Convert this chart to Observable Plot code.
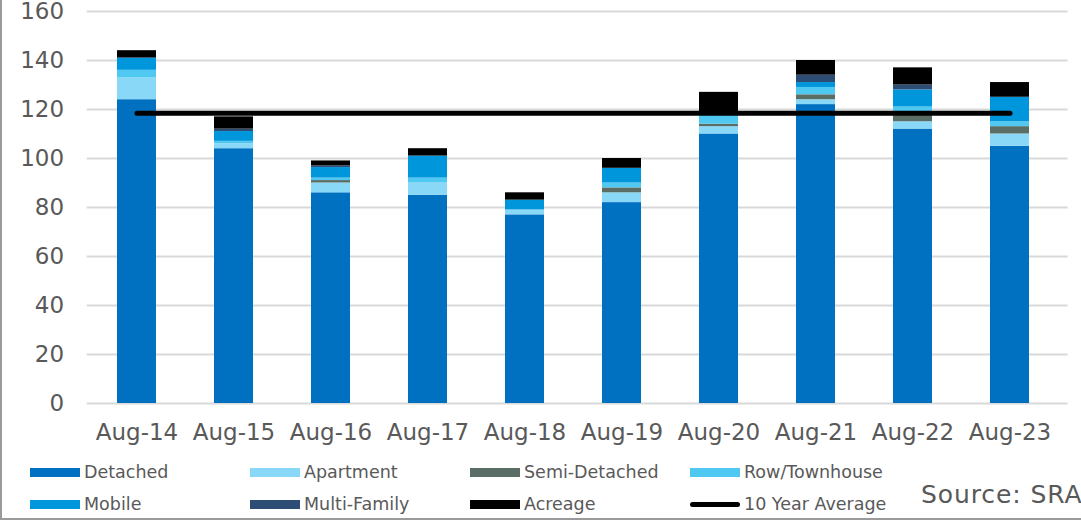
<!DOCTYPE html>
<html>
<head>
<meta charset="utf-8">
<script src="https://cdn.jsdelivr.net/npm/d3@7"></script>
<script src="https://cdn.jsdelivr.net/npm/@observablehq/plot@0.6"></script>
<style>
  html, body { margin: 0; padding: 0; background: #fff; }
  #wrap { position: relative; width: 1081px; height: 520px; overflow: hidden; font-family: "DejaVu Sans", Verdana, sans-serif; }
  #chart { position: absolute; left: 0; top: 0; }
  .bl { position: absolute; left: 0; top: 0; width: 2px; height: 520px; background: #9a9a9a; }
  .bb { position: absolute; left: 0; top: 518px; width: 1081px; height: 2px; background: #9a9a9a; }
  .leg { position: absolute; display: flex; align-items: center; font-size: 17.5px; color: #595959; white-space: nowrap; }
  .sw { width: 50px; height: 9px; margin-right: 4px; }
  .ln { width: 50px; height: 5px; margin-right: 4px; background: #000; border-radius: 3px; }
  #source { position: absolute; left: 921px; top: 480px; font-size: 25px; letter-spacing: 0.9px; color: #595959; white-space: nowrap; }
</style>
</head>
<body>
<div id="wrap">
  <div id="chart"></div>
  <div id="legend"></div>
  <div id="source">Source: SRA</div>
  <div class="bl"></div>
  <div class="bb"></div>
</div>
<script>
const categories = ["Aug-14","Aug-15","Aug-16","Aug-17","Aug-18","Aug-19","Aug-20","Aug-21","Aug-22","Aug-23"];
const detached     = [124, 104, 86,  85, 77, 82, 110, 122, 112, 105];
const apartment    = [9,   2,   4,   5,  2,  4,  3,   2,   3,   5];
const semiDetached = [0,   0,   1,   0,  0,  2,  1,   2,   4,   3];
const rowTownhouse = [3,   1,   1,   2,  0,  2,  4,   3,   2,   2];
const mobile       = [5,   4,   4.3, 9,  4,  6,  0,   2,   7,   10];
const multiFamily  = [0,   1,   0.7, 0,  0,  0,  0,   3,   2,   0];
const acreage      = [3,   5,   2,   3,  3,  4,  9,   6,   7,   6];
const tenYearAverage = 118.5;
const yTicks = [0, 20, 40, 60, 80, 100, 120, 140, 160];

const seriesNames = ["Detached","Apartment","Semi-Detached","Row/Townhouse","Mobile","Multi-Family","Acreage"];
const seriesValues = [detached, apartment, semiDetached, rowTownhouse, mobile, multiFamily, acreage];
const seriesColors = ["#0070C0","#8AD8F7","#5B6E66","#4FC8F2","#0096DB","#2E4D75","#000000"];

const rows = [];
seriesNames.forEach((s, i) => categories.forEach((c, j) => rows.push({cat: c, series: s, value: seriesValues[i][j]})));
const avgRows = [{cat: categories[0], v: tenYearAverage}, {cat: categories[categories.length - 1], v: tenYearAverage}];

const chart = Plot.plot({
  width: 1081,
  height: 450,
  marginTop: 11,
  marginBottom: 47,
  marginLeft: 86.6,
  marginRight: 22.4,
  style: {fontFamily: "'DejaVu Sans', Verdana, sans-serif", background: "transparent"},
  x: {domain: categories, paddingInner: 0.6, paddingOuter: 0.3, label: null, tickSize: 0, tickPadding: 20},
  y: {domain: [0, 160], ticks: yTicks, label: null, tickSize: 0, tickPadding: 23},
  color: {domain: seriesNames, range: seriesColors},
  marks: [
    Plot.ruleY(yTicks, {stroke: "#d9d9d9", strokeWidth: 2, insetRight: -9}),
    Plot.barY(rows, {x: "cat", y: "value", fill: "series"}),
    Plot.lineY(avgRows, {x: "cat", y: "v", stroke: "#000", strokeWidth: 5, strokeLinecap: "round"}),
    Plot.axisX({tickSize: 0, tickPadding: 20, fontSize: 23, fill: "#595959"}),
    Plot.axisY({ticks: yTicks, tickSize: 0, tickPadding: 23, fontSize: 23, fill: "#595959"})
  ]
});
document.getElementById("chart").appendChild(chart);

const legendItems = [
  {name: "Detached", color: seriesColors[0], x: 30, y: 472},
  {name: "Apartment", color: seriesColors[1], x: 250, y: 472},
  {name: "Semi-Detached", color: seriesColors[2], x: 470, y: 472},
  {name: "Row/Townhouse", color: seriesColors[3], x: 690, y: 472},
  {name: "Mobile", color: seriesColors[4], x: 30, y: 504},
  {name: "Multi-Family", color: seriesColors[5], x: 250, y: 504},
  {name: "Acreage", color: seriesColors[6], x: 470, y: 504},
  {name: "10 Year Average", color: null, x: 690, y: 504}
];
const leg = document.getElementById("legend");
legendItems.forEach(it => {
  const d = document.createElement("div");
  d.className = "leg";
  d.style.left = it.x + "px";
  d.style.top = (it.y - 12) + "px";
  d.style.height = "24px";
  const sw = document.createElement("span");
  if (it.color) { sw.className = "sw"; sw.style.background = it.color; } else { sw.className = "ln"; }
  d.appendChild(sw);
  const t = document.createElement("span");
  t.textContent = it.name;
  d.appendChild(t);
  leg.appendChild(d);
});
</script>
</body>
</html>
